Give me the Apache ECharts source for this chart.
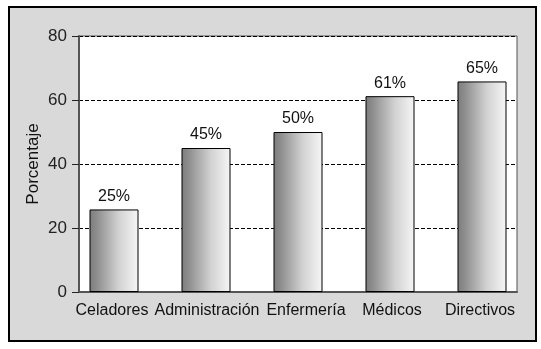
<!DOCTYPE html>
<html><head><meta charset="utf-8">
<script src="https://cdn.jsdelivr.net/npm/echarts@6/dist/echarts.min.js"></script>
<style>html,body{margin:0;padding:0;background:#fff}#c{width:541px;height:349px}</style>
</head><body><div id="c"></div>
<script>
var categories = ['Celadores', 'Administración', 'Enfermería', 'Médicos', 'Directivos'];
var values = [25.8, 45, 50, 61.2, 65.8];
var valueLabels = ['25%', '45%', '50%', '61%', '65%'];
var yTicks = [0, 20, 40, 60, 80];

var font = '"Liberation Sans", Arial, sans-serif';
var labelShift = [-2, 1, 8, 2, -2];
var rich = {};
labelShift.forEach(function (s, i) {
  rich['c' + i] = {fontSize: 16, color: '#111', fontFamily: font,
    padding: s >= 0 ? [0, 0, 0, 2 * s] : [0, -2 * s, 0, 0]};
});
var chart = echarts.init(document.getElementById('c'), null, {renderer: 'canvas'});
chart.setOption({
  backgroundColor: '#fff',
  animation: false,
  graphic: [{
    type: 'rect', z: -10, silent: true,
    shape: {x: 9, y: 7, width: 527, height: 334},
    style: {fill: '#d9d9d9', stroke: '#000', lineWidth: 2}
  }],
  grid: [
    {left: 79, top: 36, width: 438, height: 256, show: true, backgroundColor: '#fff', borderColor: '#555', borderWidth: 1},
    {left: 68, top: 36, width: 460, height: 256}
  ],
  xAxis: [
    {gridIndex: 0, type: 'category', data: categories, axisLine: {show: true, lineStyle: {color: '#555', width: 2}}, axisTick: {show: false}, axisLabel: {show: false}},
    {gridIndex: 1, type: 'category', data: categories, axisLine: {show: false}, axisTick: {show: false},
     axisLabel: {fontSize: 16, color: '#111', margin: 11, fontFamily: font, interval: 0, rich: rich,
       formatter: function (v, i) { return '{c' + i + '|' + v + '}'; }}}
  ],
  yAxis: [
    {gridIndex: 0, type: 'value', min: yTicks[0], max: yTicks[yTicks.length - 1], interval: 20,
     axisLine: {show: true, lineStyle: {color: '#555', width: 2}},
     axisTick: {show: true, length: 7, lineStyle: {color: '#222'}},
     axisLabel: {fontSize: 17, color: '#222', margin: 12, fontFamily: font},
     splitLine: {show: true, lineStyle: {color: '#000', type: [4, 2], width: 1}},
     name: 'Porcentaje', nameLocation: 'middle', nameGap: 37, nameRotate: 90, nameMoveOverlap: false,
     nameTextStyle: {fontSize: 17, color: '#111', fontFamily: font}},
    {gridIndex: 1, type: 'value', min: yTicks[0], max: yTicks[yTicks.length - 1], show: false}
  ],
  series: [{
    type: 'bar', xAxisIndex: 1, yAxisIndex: 1, data: values, barWidth: 49,
    itemStyle: {
      color: new echarts.graphic.LinearGradient(0, 0, 1, 0, [
        {offset: 0, color: '#7c7c7c'},
        {offset: 0.15, color: '#8e8e8e'},
        {offset: 0.6, color: '#d2d2d2'},
        {offset: 1, color: '#f6f6f6'}
      ]),
      borderColor: '#000', borderWidth: 1
    },
    label: {show: true, position: 'top', distance: 5, fontSize: 16, color: '#111', fontFamily: font,
      formatter: function (p) { return valueLabels[p.dataIndex]; }}
  }]
});
</script></body></html>
